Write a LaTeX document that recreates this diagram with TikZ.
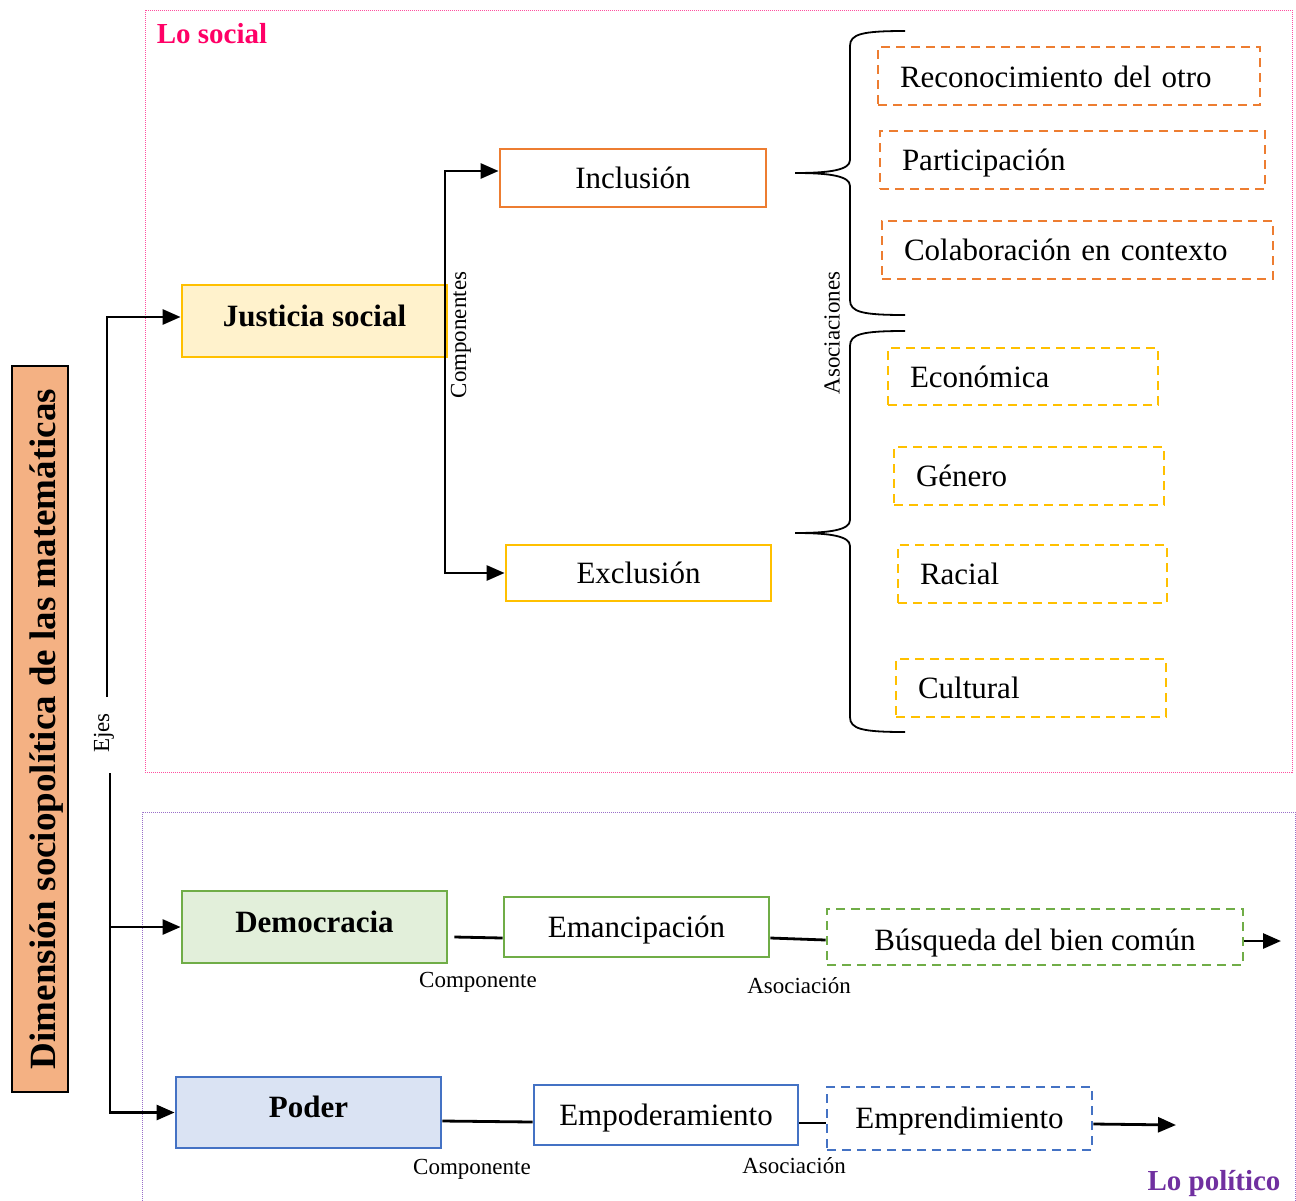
\documentclass[tikz,border=0pt]{standalone}
\usepackage{fontspec}
\setmainfont{Liberation Serif}
\usetikzlibrary{arrows.meta}
\definecolor{socialc}{HTML}{FF0066}
\definecolor{socialf}{HTML}{FF4FA0}
\definecolor{politc}{HTML}{7030A0}
\definecolor{politf}{HTML}{9A6FC8}
\definecolor{orangec}{HTML}{ED7D31}
\definecolor{goldc}{HTML}{FFC000}
\definecolor{greenc}{HTML}{70AD47}
\definecolor{bluec}{HTML}{4472C4}
\definecolor{jusfill}{HTML}{FFF2CC}
\definecolor{demfill}{HTML}{E2EFDA}
\definecolor{podfill}{HTML}{DAE3F3}
\definecolor{titlefill}{HTML}{F4B183}
\newcommand{\bigtxt}{\fontsize{31}{36}\selectfont}
\newcommand{\smalltxt}{\fontsize{23}{27}\selectfont}
\tikzset{
  box/.style n args={3}{draw=#1, line width=2.8pt, inner sep=0pt,
    minimum width=#2, minimum height=#3, font=\bigtxt,
    text height=27pt, text depth=7pt},
  boldbox/.style={font=\bigtxt\bfseries, text height=20pt, text depth=10pt},
  dbox/.style n args={3}{draw=#1, line width=2.8pt, dash pattern=on 9pt off 6pt,
    inner ysep=0pt, inner xsep=22pt, text width=#2-44pt, align=left,
    minimum height=#3, font=\bigtxt, text height=28pt, text depth=7pt},
  dcbox/.style n args={3}{draw=#1, line width=2.8pt, dash pattern=on 9pt off 6pt,
    inner sep=0pt, minimum width=#2, minimum height=#3, font=\bigtxt,
    text height=27pt, text depth=7pt},
  conn/.style={line width=2.8pt, black},
  arr/.style={conn, -{Triangle[length=18pt,width=15pt]}},
  lbl/.style={font=\smalltxt, inner sep=0pt},
  brace/.style={line width=1.8pt, black},
  framesoc/.style={socialf, line width=1pt, dash pattern=on 1pt off 1pt},
  framepol/.style={politf, line width=1pt, dash pattern=on 1pt off 1pt},
}
\begin{document}
\begin{tikzpicture}[x=1pt,y=-1pt]
\useasboundingbox (0,0) rectangle (1296,1200);

% frames of the two areas
\draw[framesoc] (145,10) rectangle (1292,772);
\node[font=\fontsize{29}{34}\selectfont\bfseries, text=socialc, inner sep=0pt] (lsoc) at (212,34) {Lo social};
\draw[framepol] (142,1205) -- (142,812) -- (1295,812) -- (1295,1205);
\node[font=\fontsize{29}{34}\selectfont\bfseries, text=politc, inner sep=0pt] (lpol) at (1214,1183) {Lo político};

% title bar
\node[draw=black, line width=1.5pt, fill=titlefill, minimum width=56pt, minimum height=726pt, inner sep=0pt] (title) at (40,729) {};
\node[rotate=90, font=\fontsize{37}{42}\selectfont\bfseries, inner sep=0pt] (titletxt) at (47,729) {Dimensión sociopolítica de las matemáticas};

% main nodes
\node[box={goldc}{265pt}{72pt}, boldbox, fill=jusfill] (jus) at (314.5,321) {Justicia social};
\node[box={orangec}{266pt}{58pt}] (inc) at (633,178) {Inclusión};
\node[box={goldc}{265pt}{56pt}] (exc) at (638.5,573) {Exclusión};

\node[dbox={orangec}{382pt}{58pt}, text height=30pt] (rec) at (1069,76) {Reconocimiento del otro};
\node[dbox={orangec}{385pt}{58pt}] (par) at (1072.5,160) {Participación};
\node[dbox={orangec}{391pt}{58pt}] (col) at (1077.5,250) {Colaboración en contexto};

\node[dbox={goldc}{270pt}{57pt}] (eco) at (1023,376.5) {Económica};
\node[dbox={goldc}{270pt}{58pt}] (gen) at (1029,476) {Género};
\node[dbox={goldc}{269pt}{58pt}] (rac) at (1032.5,574) {Racial};
\node[dbox={goldc}{270pt}{58pt}] (cul) at (1031,688) {Cultural};

\node[box={greenc}{265pt}{72pt}, boldbox, fill=demfill] (dem) at (314.5,927) {Democracia};
\node[box={greenc}{265pt}{60pt}] (ema) at (636.5,927) {Emancipación};
\node[dcbox={greenc}{416pt}{56pt}, text height=33pt] (bus) at (1035,937) {Búsqueda del bien común};

\node[box={bluec}{265pt}{71pt}, boldbox, fill=podfill] (pod) at (308.5,1112.5) {Poder};
\node[box={bluec}{264pt}{60pt}] (emp) at (666,1115) {Empoderamiento};
\node[dcbox={bluec}{265pt}{63pt}] (epr) at (959.5,1118.5) {Emprendimiento};

% axes on the left
\coordinate (ejA) at (107,697);
\coordinate (ejB) at (110,773);
\node[lbl, rotate=90] (ejes) at (104,733) {Ejes};
\draw[arr] (ejA) |- ([yshift=4pt]jus.west);
\draw[arr] (ejB) |- (dem.west);
\draw[arr] (ejB) |- (pod.west);

% components of social justice
\coordinate (cmp) at (445,321);
\draw[arr] (cmp) |- ([yshift=7pt]inc.west);
\draw[arr] (cmp) |- (exc.west);
\node[lbl, rotate=90] (cmplbl) at (461,335) {Componentes};

% braces of associations
\draw[brace] (905,31) .. controls (862,31) and (850,34) .. (850,46) -- (850,160)
  .. controls (850,170) and (830,173) .. (795,173)
  .. controls (830,173) and (850,176) .. (850,186) -- (850,300)
  .. controls (850,312) and (862,315) .. (905,315);
\draw[brace] (905,331) .. controls (862,331) and (850,334) .. (850,346) -- (850,520)
  .. controls (850,530) and (830,533) .. (795,533)
  .. controls (830,533) and (850,536) .. (850,546) -- (850,717)
  .. controls (850,729) and (862,732) .. (905,732);
\node[lbl, rotate=90] (asolbl) at (832,333) {Asociaciones};

% political chain
\draw[conn] ([xshift=6pt,yshift=-10pt]dem.east) -- ([yshift=-11pt]ema.west);
\node[lbl] (comp1) at (478,982) {Componente};
\draw[conn] ([yshift=-11pt]ema.east) -- ([yshift=-3pt]bus.west);
\node[lbl] (aso1) at (799,986) {Asociación};
\coordinate (busend) at (1281,941);
\draw[arr] ([yshift=-4pt]bus.east) -- (busend);

\draw[conn] ([yshift=-8.5pt]pod.east) -- ([yshift=-7pt]emp.west);
\node[lbl] (comp2) at (472,1169) {Componente};
\draw[conn] ([yshift=-8pt]emp.east) -- ([yshift=-4.5pt]epr.west);
\node[lbl] (aso2) at (794,1166) {Asociación};
\coordinate (eprend) at (1176,1125);
\draw[arr] ([yshift=-5.5pt]epr.east) -- (eprend);
\end{tikzpicture}
\end{document}
